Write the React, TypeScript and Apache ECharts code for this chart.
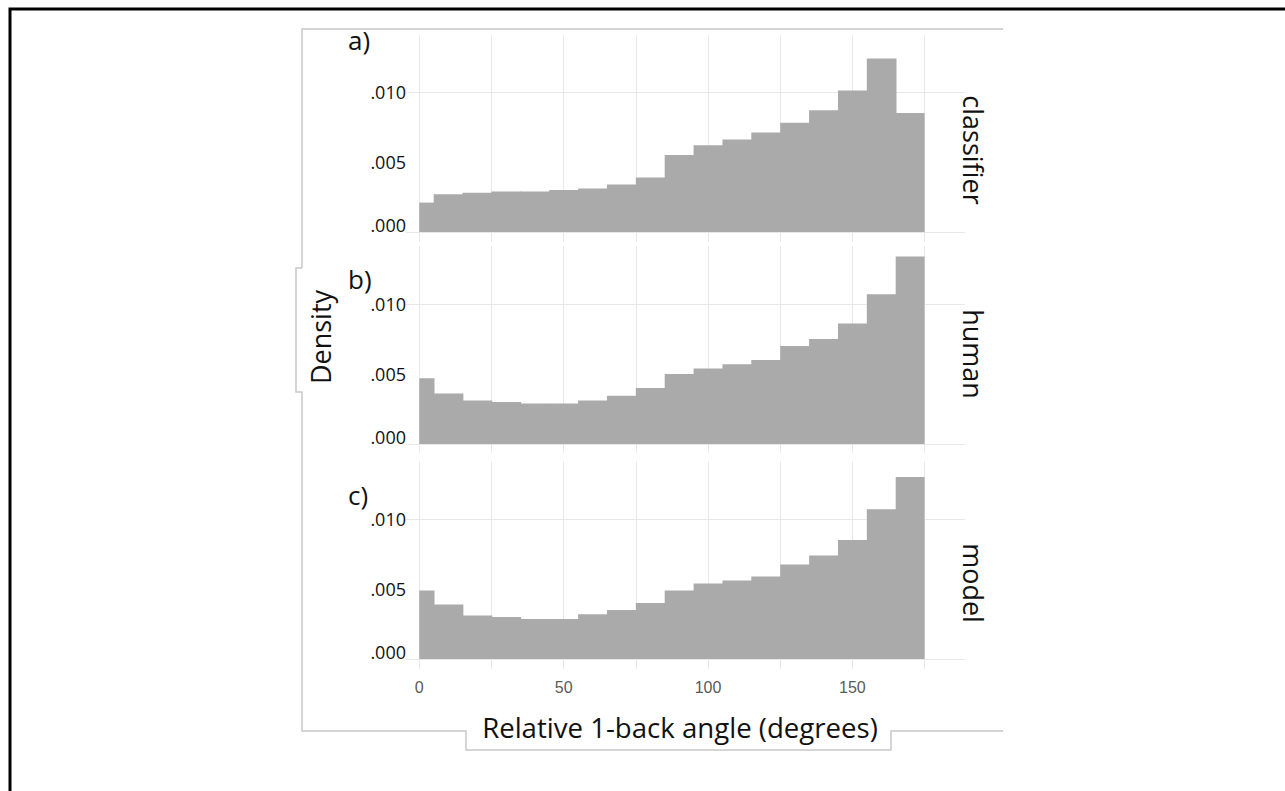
import React, { useEffect, useRef } from "react";
import * as echarts from "echarts";

// ---- data ----
const binStart = [0, 5, 15, 25, 35, 45, 55, 65, 75, 85, 95, 105, 115, 125, 135, 145, 155, 165];
const binEnd = [5, 15, 25, 35, 45, 55, 65, 75, 85, 95, 105, 115, 125, 135, 145, 155, 165, 175];
const classifier = [0.0021, 0.0027, 0.0028, 0.0029, 0.0029, 0.003, 0.0031, 0.0034, 0.0039, 0.0055, 0.0062, 0.0066, 0.0071, 0.0078, 0.0087, 0.0101, 0.0124, 0.0085];
const human = [0.0047, 0.0036, 0.0031, 0.003, 0.0029, 0.0029, 0.0031, 0.00345, 0.004, 0.005, 0.0054, 0.0057, 0.006, 0.007, 0.0075, 0.0086, 0.0107, 0.0134];
const model = [0.0049, 0.0039, 0.0031, 0.003, 0.00285, 0.00285, 0.0032, 0.0035, 0.004, 0.0049, 0.0054, 0.0056, 0.0059, 0.00675, 0.0074, 0.0085, 0.0107, 0.013];
const panelNames = ["classifier", "human", "model"];
const panelTags = ["a)", "b)", "c)"];
const xTickValues = [0, 50, 100, 150];
const yTickValues = [0, 0.005, 0.01];
const xGridValues = [0, 25, 50, 75, 100, 125, 150, 175];
const yGridValues = [0, 0.0025, 0.005, 0.0075, 0.01, 0.0125];
const xTitle = "Relative 1-back angle (degrees)";
const yTitle = "Density";

// ---- layout ----
const GRID_LEFT = 394;
const GRID_WIDTH = 571;
const GRID_TOPS = [34.6, 246.6, 461.6];
const GRID_H = 207.2;
const X_MIN = -8.75;
const X_MAX = 189;
const Y_MIN = -0.0007;
const Y_MAX = 0.0141;
const BAR = "#aaaaaa";
const GRIDC = "#e8e8e8";
const FONT = "Open Sans";

export default function App() {
  const ref = useRef<HTMLDivElement>(null);
  useEffect(() => {
    if (!ref.current) return;
    const chart = echarts.init(ref.current, undefined, { renderer: "svg" });
    const panels = [classifier, human, model];

    const grid = GRID_TOPS.map((t) => ({ left: GRID_LEFT, width: GRID_WIDTH, top: t, height: GRID_H }));
    const xAxis = GRID_TOPS.map((_, i) => ({
      type: "value",
      gridIndex: i,
      min: X_MIN,
      max: X_MAX,
      z: 3,
      axisLine: { show: false },
      axisTick: { show: false },
      splitLine: { show: false },
      axisLabel: {
        show: i === 2,
        customValues: xTickValues,
        color: "#5a5a5a",
        fontFamily: "Liberation Sans",
        fontSize: 16,
        margin: 11,
      },
    }));
    const yAxis = GRID_TOPS.map((_, i) => ({
      type: "value",
      gridIndex: i,
      min: Y_MIN,
      max: Y_MAX,
      z: 3,
      axisLine: { show: false },
      axisTick: { show: false },
      splitLine: { show: false },
      axisLabel: {
        customValues: yTickValues,
        color: "#111",
        fontFamily: FONT,
        fontSize: 18,
        margin: -12,
        backgroundColor: "#ffffff",
        formatter: (v: number) => {
          const s = v.toFixed(3).replace(/^0/, "");
          return v === 0 ? "{z|" + s + "}" : s;
        },
        rich: {
          z: { fontFamily: FONT, fontSize: 18, color: "#111", padding: [0, 0, 14, 0] },
        },
      },
    }));

    const series: any[] = [];
    panels.forEach((vals, i) => {
      series.push({
        type: "line",
        xAxisIndex: i,
        yAxisIndex: i,
        data: [],
        z: 1,
        silent: true,
        markLine: {
          z: 1,
          silent: true,
          symbol: ["none", "none"],
          label: { show: false },
          lineStyle: { color: GRIDC, width: 1, type: "solid" },
          data: [
            ...xGridValues.map((v) => ({ xAxis: v })),
            ...yGridValues.map((v) => ({ yAxis: v })),
          ],
        },
      });
      series.push({
        type: "custom",
        xAxisIndex: i,
        yAxisIndex: i,
        z: 2,
        encode: { x: [0, 1], y: 2 },
        data: binStart.map((s, j) => [s, binEnd[j], vals[j]]),
        renderItem: (params: any, api: any) => {
          const p0 = api.coord([api.value(0), api.value(2)]);
          const p1 = api.coord([api.value(1), 0]);
          const last = params.dataIndex === binStart.length - 1;
          return {
            type: "rect",
            shape: { x: p0[0], y: p0[1], width: p1[0] - p0[0] + (last ? 0 : 0.8), height: p1[1] - p0[1] },
            style: { fill: BAR, stroke: null },
          };
        },
      });
    });

    const frame = "#c8c8c8";
    const graphic: any[] = [
      { type: "polyline", shape: { points: [[10, 800], [10, 9], [1300, 9]] }, style: { stroke: "#000", lineWidth: 3, fill: "none" } },
      { type: "polyline", shape: { points: [[302, 268], [302, 29], [1003, 29]] }, style: { stroke: frame, lineWidth: 1.5, fill: "none" } },
      { type: "polyline", shape: { points: [[302, 268], [296, 268], [296, 392], [302, 392], [302, 731], [466, 731], [466, 750], [891, 750], [891, 731], [1003, 731]] }, style: { stroke: frame, lineWidth: 1.5, fill: "none" } },
      {
        type: "text", x: 320, y: 337, rotation: Math.PI / 2,
        style: { text: yTitle, fontFamily: FONT, fontSize: 27, fill: "#111", textAlign: "center", textVerticalAlign: "middle" },
      },
      {
        type: "text", x: 680, y: 727,
        style: { text: xTitle, fontFamily: FONT, fontSize: 27.6, fill: "#111", textAlign: "center", textVerticalAlign: "middle" },
      },
    ];
    const tagY = [40, 279, 495];
    const stripY = [150, 354, 583];
    panelTags.forEach((t, i) => {
      graphic.push({
        type: "text", x: 348, y: tagY[i],
        style: { text: t, fontFamily: FONT, fontSize: 26, fill: "#111", textAlign: "left", textVerticalAlign: "middle" },
      });
      graphic.push({
        type: "text", x: 973, y: stripY[i], rotation: -Math.PI / 2,
        style: { text: panelNames[i], fontFamily: FONT, fontSize: 27, fill: "#111", textAlign: "center", textVerticalAlign: "middle" },
      });
    });

    chart.setOption({
      animation: false,
      backgroundColor: "#ffffff",
      grid,
      xAxis,
      yAxis,
      series,
      graphic,
    });
    return () => chart.dispose();
  }, []);
  return (
    <div
      ref={ref}
      style={{ position: "fixed", left: 0, top: 0, width: 1285, height: 791, background: "#fff" }}
    />
  );
}
